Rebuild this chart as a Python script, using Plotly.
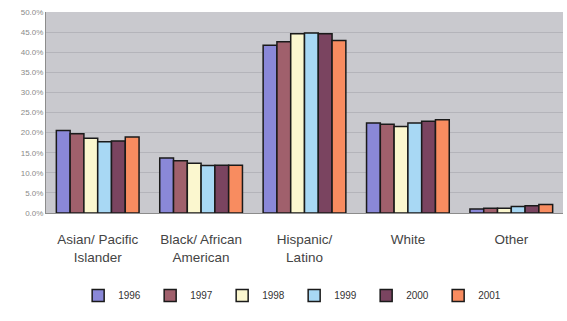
import plotly.graph_objects as go

# Share of students by ethnicity, 1996-2001
categories = ["Asian/ Pacific<br>Islander", "Black/ African<br>American",
              "Hispanic/<br>Latino", "White", "Other"]
years = ["1996", "1997", "1998", "1999", "2000", "2001"]

pct_1996 = [20.5, 13.7, 41.7, 22.4, 1.0]
pct_1997 = [19.7, 13.0, 42.6, 22.1, 1.2]
pct_1998 = [18.6, 12.4, 44.6, 21.5, 1.2]
pct_1999 = [17.7, 11.8, 44.8, 22.4, 1.6]
pct_2000 = [17.9, 11.9, 44.6, 22.8, 1.8]
pct_2001 = [18.9, 11.9, 42.9, 23.2, 2.1]

series = [pct_1996, pct_1997, pct_1998, pct_1999, pct_2000, pct_2001]
colors = ["#8a88d8", "#a0606c", "#fbf7cf", "#a8d8f4", "#7a4460", "#f88c60"]

y_ticks = [0, 5, 10, 15, 20, 25, 30, 35, 40, 45, 50]

fig = go.Figure()
for year, vals, col in zip(years, series, colors):
    fig.add_trace(go.Bar(
        name=year, x=categories, y=vals,
        marker=dict(color=col, line=dict(color="#1a1a1a", width=1.5)),
    ))

fig.update_layout(
    width=567, height=321,
    margin=dict(l=46, r=4, t=12, b=108, autoexpand=False),
    paper_bgcolor="white",
    plot_bgcolor="#c9c9ce",
    barmode="group",
    bargap=0.2,
    bargroupgap=0.0,
    font=dict(family="Liberation Sans, Arial, sans-serif", color="#444"),
    legend=dict(
        orientation="h", x=0.48, xanchor="center", y=-0.41, yanchor="middle",
        font=dict(size=10, color="#333"),
        entrywidth=27, itemwidth=30,
        bgcolor="rgba(0,0,0,0)",
    ),
    showlegend=True,
)

fig.update_xaxes(
    showgrid=False, showline=True, linecolor="#8c8c8c", linewidth=1,
    tickfont=dict(size=13.5, color="#444"),
    ticks="", ticklabelstandoff=14,
    mirror=False,
)
fig.update_yaxes(
    range=[0, 50], tickvals=y_ticks,
    ticktext=[f"{v:.1f}%" for v in y_ticks],
    tickfont=dict(size=8, color="#8a8a8a"),
    showgrid=True, gridcolor="#b4b4ba", gridwidth=1,
    showline=True, linecolor="#8c8c8c", linewidth=1,
    zeroline=False, ticks="",
)

fig.write_html("out.html")
